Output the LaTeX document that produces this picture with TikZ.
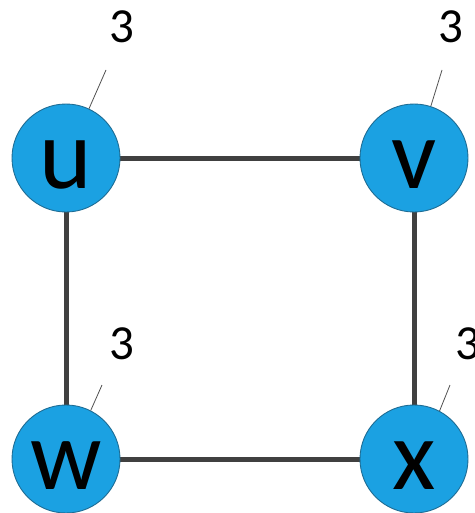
\documentclass[tikz,border=0pt]{standalone}
\usepackage{fontspec}
\setmainfont{Carlito}
\usetikzlibrary{backgrounds}
\definecolor{nodefill}{HTML}{1BA1E2}
\definecolor{nodeedge}{HTML}{1E6C94}
\definecolor{edgecol}{HTML}{404040}
\definecolor{tickcol}{HTML}{505050}
\tikzset{
  vertex/.style={circle, draw=nodeedge, line width=0.9pt, fill=nodefill,
    minimum size=108pt, inner sep=0pt, text height=60pt, text depth=0pt,
    font=\fontsize{100}{100}\selectfont},
  edge/.style={draw=edgecol, line width=5pt},
  weight/.style={anchor=base, inner sep=0pt, font=\fontsize{49}{49}\selectfont},
  tick/.style={draw=tickcol, line width=0.8pt}
}
\begin{document}
\begin{tikzpicture}[x=1pt,y=-1pt]
\useasboundingbox (0,0) rectangle (474,513);
\node[vertex] (u) at (66,158) {u};
\node[vertex] (v) at (414,158) {v};
\node[vertex] (w) at (66,459) {w};
\node[vertex] (x) at (414,459) {x};
\begin{scope}[on background layer]
\draw[edge] (u) -- (v);
\draw[edge] (v) -- (x);
\draw[edge] (x) -- (w);
\draw[edge] (w) -- (u);
\end{scope}
\node[weight] (lu) at (122,43) {3};
\node[weight] (lv) at (451,43) {3};
\node[weight] (lw) at (122,359) {3};
\node[weight] (lx) at (468,359) {3};
\coordinate (tu) at (106,70);
\coordinate (tv) at (442,70);
\coordinate (tw) at (102,385);
\coordinate (tx) at (450,385);
\draw[tick] (u.65) -- (tu);
\draw[tick] (v.72) -- (tv);
\draw[tick] (w.63) -- (tw);
\draw[tick] (x.62) -- (tx);
\end{tikzpicture}
\end{document}
